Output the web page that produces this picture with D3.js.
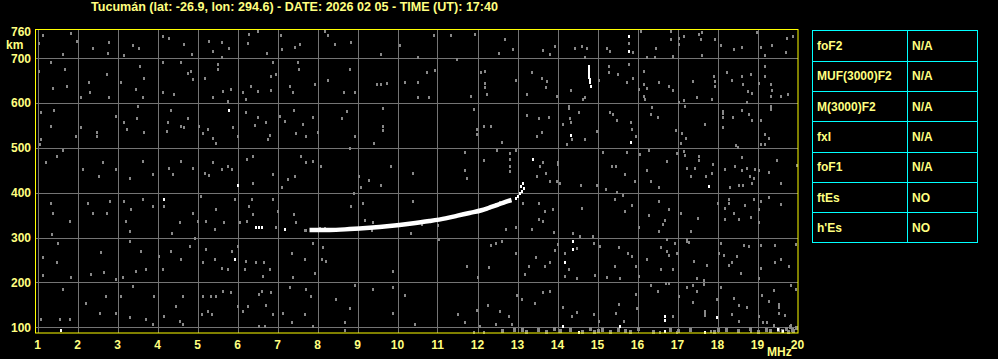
<!DOCTYPE html>
<html><head><meta charset="utf-8">
<script src="https://cdn.jsdelivr.net/npm/d3@7"></script>
<style>html,body{margin:0;padding:0;background:#000;overflow:hidden}</style>
</head><body><svg id="c" width="998" height="359"></svg>
<script>
const title = "Tucumán (lat: -26.9, lon: 294.6) - DATE: 2026 02 05 - TIME (UT): 17:40";
const xTicks = [1,2,3,4,5,6,7,8,9,10,11,12,13,14,15,16,17,18,19,20];
const yTicks = [100,200,300,400,500,600,700,760];
const yGrid = [100,200,300,400,500,600,700];
const tableParams = ["foF2","MUF(3000)F2","M(3000)F2","fxI","foF1","ftEs","h'Es"];
const tableValues = ["N/A","N/A","N/A","N/A","N/A","NO","NO"];
// main O-trace (MHz, km)
const traceF = [7.8,8.3,8.8,9.3,9.8,10.3,10.8,11.2,11.5,11.8,12.1,12.3,12.5,12.7,12.85];
const traceH = [317,317,319,322,326,331,337,343,349,355,361,367,373,380,384];
// isolated white echoes [MHz, km]
const whiteEchoes = [[12.95,388],[13.02,393],[13.07,399],[13.12,404],[13.15,410],[13.08,415],[13.13,421],
[1.59,94],[4.17,386],[5.78,585],[6.00,418],[5.93,252],[6.47,323],[6.55,323],[6.61,323],[7.18,319],
[15.78,750],[15.78,717],[13.39,475],[14.34,529],[15.85,514],[14.38,293],[14.38,274],[14.18,246],
[15.57,103],[14.13,102],[14.53,90],[17.79,416],[16.68,126],[16.68,117],[16.68,92],[17.98,122],[17.68,90],
[19.50,97],[19.65,92],[14.78,683],[14.78,677],[14.78,671],[14.78,665],[14.78,659],[14.80,653],[14.80,648],[14.84,638]];
// grey noise echoes [MHz, km]
const noise = [
[1.84,756],[1.98,739],[1.13,752],[1.03,735],[1.63,709],[2.38,724],[2.78,737],[2.75,711],[3.38,729],[3.53,723],[3.15,707],[4.13,750],[4.3,746],[4.67,732],
[1.03,672],[1.34,692],[1.69,677],[1.38,633],[1.73,639],[2.28,648],[2.74,665],[2.80,613],[2.30,624],[2.09,613],[3.09,648],[3.55,683],[3.67,655],[3.46,631],[3.63,613],[4.13,691],[4.13,624],[4.42,620],[4.59,691],[4.75,668],
[1.09,581],[1.42,585],[1.34,549],[1.09,520],[1.06,508],[1.95,527],[2.09,546],[2.48,535],[2.49,526],[2.96,572],[3.15,557],[3.23,542],[3.50,593],[3.48,566],[3.67,536],[4.25,557],[4.23,538],[4.60,549],[4.67,546],[4.34,584],
[1.21,468],[1.49,482],[1.63,496],[2.13,454],[2.63,468],[2.53,438],[2.95,453],[3.30,434],[3.63,471],[3.88,442],[4.28,456],[4.38,442],[4.60,471],
[1.34,378],[1.38,356],[1.80,337],[1.36,308],[2.25,377],[2.38,356],[2.73,354],[2.81,382],[3.17,381],[3.34,363],[3.20,337],[3.30,315],[3.63,387],[3.88,371],[4.17,371],[4.35,311],[4.55,334],
[1.50,289],[1.13,256],[1.48,246],[1.13,216],[1.84,213],[2.59,268],[2.67,224],[2.34,220],[2.95,207],[3.30,293],[3.59,271],[3.46,226],[3.71,231],[3.13,213],[4.03,258],[4.13,230],[4.59,253],[4.34,271],
[1.63,185],[1.55,118],[1.80,118],[1.09,118],[2.21,155],[2.55,133],[2.71,170],[3.09,170],[3.38,192],[3.30,122],[3.71,118],[3.88,107],[3.92,170],[4.17,126],[4.46,148],[4.63,170],[4.63,107],[4.55,114],[2.96,133],
[4.85,709],[5.28,739],[5.60,737],[5.78,724],[5.39,717],[5.60,702],[6.30,754],[6.51,761],[6.25,734],[6.74,711],[7.08,752],[7.10,720],[7.43,726],[7.55,732],[8.18,761],[8.26,752],[8.43,732],
[4.83,672],[4.89,653],[5.18,657],[5.50,676],[5.50,687],[5.64,627],[5.83,631],[5.39,613],[5.75,605],[6.14,625],[6.20,609],[6.33,639],[6.51,627],[6.85,661],[6.97,665],[6.83,629],[6.89,691],[7.30,639],[7.39,624],[7.50,692],[7.53,677],[7.93,642],[8.25,652],
[4.76,566],[5.03,549],[5.14,534],[5.25,542],[5.39,523],[5.45,512],[5.89,546],[6.00,526],[6.20,581],[6.43,551],[6.50,568],[6.72,557],[6.80,529],[6.76,520],[7.05,572],[7.18,561],[7.41,585],[7.47,533],[7.64,553],[7.72,526],[7.89,568],[8.01,536],
[4.89,456],[5.18,445],[5.28,439],[5.39,468],[5.60,453],[5.75,460],[5.86,453],[6.24,475],[6.39,482],[6.39,421],[6.89,442],[7.10,412],[7.26,430],[7.43,438],[7.60,482],[7.72,469],[7.89,471],[8.08,460],
[5.08,393],[4.89,356],[5.01,337],[5.20,337],[5.43,319],[5.45,363],[5.66,334],[5.93,386],[6.05,334],[6.28,371],[6.35,386],[6.39,352],[6.23,337],[6.89,386],[6.97,323],[7.01,360],[7.47,334],[7.41,352],
[4.93,300],[4.80,282],[5.22,274],[5.14,245],[5.43,252],[5.60,233],[5.75,230],[5.86,270],[6.01,282],[6.20,248],[6.18,230],[6.47,245],[6.66,245],[6.64,215],[6.80,231],[7.35,265],[7.39,213],[7.68,252],[7.89,289],[7.93,222],[8.10,252],[8.22,248],[8.14,278],
[5.14,170],[5.33,170],[5.47,170],[5.10,129],[5.25,137],[5.36,129],[5.64,181],[5.83,178],[6.00,148],[6.14,137],[6.25,148],[6.53,174],[6.61,181],[6.70,149],[6.85,178],[6.89,129],[6.55,103],[6.68,103],[7.14,133],[7.30,189],[7.35,111],[7.72,185],[7.83,170],[7.68,129],[7.89,103],[8.47,163],
[8.84,737],[9.58,709],[10.05,729],[10.50,702],[10.90,752],[11.34,752],[11.94,754],[8.80,677],[8.65,625],[8.94,625],[9.48,642],[9.59,642],[9.73,646],[10.19,648],[10.50,648],[10.50,613],[10.73,670],[10.79,613],[10.94,674],[11.48,698],[11.83,616],[12.08,670],[12.19,672],[12.19,646],[12.19,635],[12.23,620],
[8.73,583],[8.60,566],[9.63,590],[9.63,548],[9.63,540],[8.94,527],[9.40,512],[11.90,588],[11.98,543],[11.98,531],[12.15,548],[12.33,548],
[8.80,499],[9.83,460],[10.38,445],[9.03,438],[9.29,428],[9.09,412],[9.59,417],[11.69,490],[11.69,451],[11.73,433],[12.15,474],
[8.90,399],[8.84,371],[9.13,377],[10.38,381],[9.19,340],[9.38,334],[10.33,311],[11.02,328],[11.04,297],[12.35,283],[11.73,237],[12.29,234],[12.02,212],[9.88,226],
[8.94,194],[9.38,185],[9.88,190],[10.19,172],[8.80,144],[9.88,133],[8.69,112],[10.44,107],[11.52,129],[11.69,111],[11.98,139],[12.27,149],[12.05,102],[11.90,90],[12.15,90],[8.69,94],
[12.70,743],[12.53,711],[12.88,720],[13.63,719],[13.82,709],[13.93,728],[14.43,724],[14.61,728],[14.74,724],[14.68,702],[15.24,724],[15.30,717],[15.78,735],[15.88,713],[16.09,761],
[13.35,670],[13.60,655],[13.74,650],[13.71,637],[12.97,652],[13.24,620],[13.99,616],[14.34,629],[14.63,609],[14.70,613],[15.03,652],[15.28,683],[15.28,670],[15.51,665],[15.74,648],[15.78,687],[15.88,657],[16.03,631],[16.15,642],[16.15,616],
[13.24,573],[13.49,527],[13.53,566],[13.78,570],[13.60,535],[14.28,590],[14.28,594],[14.53,581],[14.30,566],[14.35,557],[14.13,553],[14.36,520],[14.24,508],[14.68,520],[14.99,538],[15.32,581],[15.38,575],[15.49,563],[15.85,557],[15.86,542],[15.95,527],
[12.60,514],[12.49,496],[12.82,488],[12.82,476],[12.95,496],[12.80,460],[12.82,449],[13.63,468],[13.49,438],[13.70,445],[13.80,427],[13.55,460],[14.01,468],[14.01,464],[13.99,427],[14.07,421],[14.59,417],[14.99,417],[15.13,490],[15.36,460],[15.46,460],[15.68,442],[15.74,490],[15.93,427],[16.07,486],[15.49,402],[15.20,408],
[13.14,377],[13.53,378],[13.68,360],[13.89,363],[13.53,341],[13.63,337],[13.35,319],[13.90,313],[12.71,320],[12.97,323],[14.60,365],[14.39,311],[15.43,387],[15.63,395],[15.70,360],[15.86,372],[16.03,323],
[14.57,303],[14.89,304],[14.18,265],[14.18,215],[14.28,231],[14.49,276],[13.93,273],[14.01,285],[13.28,237],[13.45,257],[13.68,237],[13.82,245],[13.18,219],[12.95,265],[12.45,289],[12.60,293],[14.90,289],[14.93,216],[15.07,282],[15.24,213],[15.43,236],[15.53,278],[15.76,265],[15.86,259],[15.95,236],[16.03,215],[15.57,209],[14.49,211],
[12.99,172],[13.10,163],[13.43,155],[13.63,178],[13.82,181],[12.57,137],[12.78,126],[12.86,107],[12.45,107],[14.13,146],[14.36,126],[14.49,135],[14.90,129],[15.03,114],[15.45,133],[15.53,152],[15.65,114],[15.95,174],[15.99,144],
[16.83,761],[16.83,744],[17.04,746],[17.04,732],[17.15,749],[17.54,754],[17.58,743],[17.62,759],[17.93,743],[18.08,729],[18.41,720],[18.62,726],[18.98,758],[19.08,726],[19.18,707],[19.37,729],[19.73,746],[19.70,714],[16.45,722],[16.23,704],[16.43,704],[16.90,706],[17.62,707],
[16.16,672],[16.54,648],[16.79,639],[16.90,630],[16.23,633],[16.18,610],[17.39,650],[17.48,613],[17.91,661],[17.93,650],[17.93,639],[17.87,609],[17.16,607],[17.04,603],[18.23,670],[18.37,652],[18.62,661],[18.65,642],[18.83,665],[18.76,627],[18.87,622],[18.73,603],[19.04,645],[19.18,683],[19.18,661],[19.33,642],[19.35,630],[19.33,616],[19.33,594],[19.33,588],[19.58,616],[19.75,620],[19.90,750],
[16.37,592],[16.33,575],[16.50,568],[16.95,540],[17.12,533],[17.20,523],[17.08,512],[17.68,553],[17.18,594],[18.14,583],[18.14,577],[18.14,568],[18.14,546],[18.39,568],[18.62,585],[18.79,575],[18.85,563],[19.09,563],[19.18,531],[19.29,523],[19.08,508],[19.18,508],[18.45,507],[18.50,503],
[16.29,496],[16.73,471],[16.23,451],[16.33,427],[16.54,414],[16.99,488],[17.15,494],[17.19,484],[17.54,482],[17.54,474],[17.23,456],[17.43,456],[17.33,438],[17.70,438],[17.89,464],[17.87,445],[18.18,453],[18.43,460],[18.62,479],[18.60,451],[18.73,456],[18.81,438],[18.90,434],[18.93,454],[18.87,421],[18.65,417],[18.54,417],[18.31,412],[19.04,451],[19.29,447],[19.58,421],[19.48,474],[19.98,462],
[16.54,382],[16.79,363],[16.29,350],[16.68,340],[16.65,330],[16.54,315],[17.08,356],[17.50,343],[17.33,315],[18.01,378],[18.18,367],[18.18,341],[18.29,386],[18.29,377],[18.40,355],[18.54,341],[18.68,372],[18.83,347],[18.90,386],[19.04,363],[19.04,334],[19.08,382],[19.29,390],[19.58,375],
[17.23,297],[17.23,293],[17.29,291],[16.73,297],[16.58,278],[16.73,271],[16.79,261],[16.93,289],[16.98,265],[16.24,252],[16.58,231],[16.90,231],[17.41,248],[17.73,239],[17.48,209],[17.65,206],[18.08,289],[18.04,265],[18.16,261],[18.29,239],[18.35,246],[18.48,259],[18.58,222],[18.66,283],[18.79,282],[19.08,283],[19.09,233],[19.04,209],[19.43,283],[19.43,245],[19.58,253],[19.79,236],[19.95,285],
[16.33,194],[16.50,181],[16.70,198],[16.79,198],[17.04,170],[17.23,191],[17.39,194],[17.48,181],[17.39,157],[17.65,196],[18.08,191],[17.68,137],[17.68,133],[17.68,128],[17.98,163],[18.40,166],[18.54,149],[18.73,146],[18.35,129],[18.54,114],[19.12,172],[19.40,183],[19.29,159],[19.54,151],[19.54,146],[19.54,133],[19.68,127],[19.83,194],[19.95,186],[19.04,126],[16.90,126],
[19.14,112],[19.23,111],[19.41,105],[19.83,105],[16.56,90],[16.99,90],[17.83,92],[18.83,92],
[7.72,316],[7.68,318],[8.05,321],[8.2,321],[9.35,316],[10.6,331],[11.55,352],[11.78,356],[12.05,362],[12.18,366],[12.45,376],[12.55,379]
];
// bottom clutter near the ground line [MHz, km]
const clutter = [[12.6,92],[12.9,95],[13.2,90],[13.5,93],[13.7,90],[13.9,96],[14.05,91],[14.3,94],[14.6,90],[14.8,97],[15.0,92],[15.1,95],[15.3,90],[15.5,94],[15.7,91],[16.0,96],[16.4,90],[16.8,93],[17.0,91],[17.3,95],[17.9,90],[18.2,93],[18.5,91],[18.8,96],[19.0,90],[19.2,94],[19.3,91],[19.5,95],[19.6,92],[19.7,97],[19.75,90],[19.8,100],[19.85,94],[19.9,91],[19.95,98],[13.1,94],[14.9,90],[15.8,89],[18.0,95]];

const svg = d3.select("#c");
const yellow = "#ffff80";
const x = d3.scaleLinear().domain([1,20]).range([37.5,797.5]);
const y = d3.scaleLinear().domain([100,700]).range([327.3,58.3]);
const fnt = "'Liberation Sans', Arial, sans-serif";

svg.append("text").attr("x",91).attr("y",10.7).attr("fill",yellow)
  .attr("font-family",fnt).attr("font-weight","bold").attr("font-size","12px")
  .attr("textLength",407).attr("lengthAdjust","spacingAndGlyphs").text(title);

// grid
const g = svg.append("g");
g.selectAll(".vg").data(xTicks.filter(d=>d<20)).join("line")
  .attr("x1",d=>Math.round(x(d))+0.5).attr("x2",d=>Math.round(x(d))+0.5)
  .attr("y1",29.5).attr("y2",333).attr("stroke","#747474").attr("stroke-width",1);
g.selectAll(".hg").data(yGrid).join("line")
  .attr("y1",d=>Math.round(y(d))+0.5).attr("y2",d=>Math.round(y(d))+0.5)
  .attr("x1",35.5).attr("x2",798).attr("stroke","#747474").attr("stroke-width",1);

// noise
g.selectAll(".n").data(noise).join("rect")
  .attr("x",d=>Math.round(x(d[0]))-1).attr("y",d=>Math.round(y(d[1]))-1)
  .attr("width",2).attr("height",3).attr("fill","#888888");
g.selectAll(".cl").data(clutter).join("rect")
  .attr("x",d=>Math.round(x(d[0]))-1).attr("y",d=>Math.round(y(d[1]))-2)
  .attr("width",3).attr("height",4).attr("fill","#888888");

// trace
const line = d3.line().x((d,i)=>x(traceF[i])).y((d,i)=>y(traceH[i])).curve(d3.curveMonotoneX);
g.append("path").attr("d",line(traceF)).attr("fill","none").attr("stroke","#fff").attr("stroke-width",4.5);
g.selectAll(".w").data(whiteEchoes).join("rect")
  .attr("x",d=>Math.round(x(d[0]))-1).attr("y",d=>Math.round(y(d[1]))-1)
  .attr("width",2).attr("height",3).attr("fill","#fff");

// frame
svg.append("rect").attr("x",35.5).attr("y",29.5).attr("width",762.5).attr("height",303.5)
  .attr("fill","none").attr("stroke","#ffff00").attr("stroke-width",1);

// axes labels
svg.selectAll(".xl").data(xTicks).join("text")
  .attr("x",d=>x(d)).attr("y",348.5).attr("text-anchor","middle").attr("fill",yellow)
  .attr("font-family",fnt).attr("font-weight","bold").attr("font-size","12px").text(d=>d);
svg.selectAll(".yl").data(yTicks).join("text")
  .attr("x",31).attr("y",d=>y(d)+4.3).attr("text-anchor","end").attr("fill",yellow)
  .attr("font-family",fnt).attr("font-weight","bold").attr("font-size","12px").text(d=>d);
svg.append("text").attr("x",6).attr("y",49.3).attr("fill",yellow)
  .attr("font-family",fnt).attr("font-weight","bold").attr("font-size","12px").text("km");
svg.append("text").attr("x",767).attr("y",355.7).attr("fill",yellow)
  .attr("font-family",fnt).attr("font-weight","bold").attr("font-size","12px").text("MHz");

// table
const rowY = d3.scaleBand().domain(d3.range(tableParams.length)).range([30.5,242.5]);
const t = svg.append("g");
t.append("rect").attr("x",812.5).attr("y",30.5).attr("width",165).attr("height",212)
  .attr("fill","none").attr("stroke","#00ffff");
t.append("line").attr("x1",907.5).attr("x2",907.5).attr("y1",30.5).attr("y2",242.5).attr("stroke","#00ffff");
t.selectAll(".rl").data(d3.range(1,tableParams.length)).join("line")
  .attr("x1",812.5).attr("x2",977.5).attr("y1",d=>Math.round(rowY(d))+0.5).attr("y2",d=>Math.round(rowY(d))+0.5)
  .attr("stroke","#00ffff");
t.selectAll(".tp").data(tableParams).join("text")
  .attr("x",817).attr("y",(d,i)=>rowY(i)+rowY.bandwidth()/2+4.5).attr("fill",yellow)
  .attr("font-family",fnt).attr("font-weight","bold").attr("font-size","12px").text(d=>d);
t.selectAll(".tv").data(tableValues).join("text")
  .attr("x",912).attr("y",(d,i)=>rowY(i)+rowY.bandwidth()/2+4.5).attr("fill",yellow)
  .attr("font-family",fnt).attr("font-weight","bold").attr("font-size","12px").text(d=>d);
</script></body></html>
